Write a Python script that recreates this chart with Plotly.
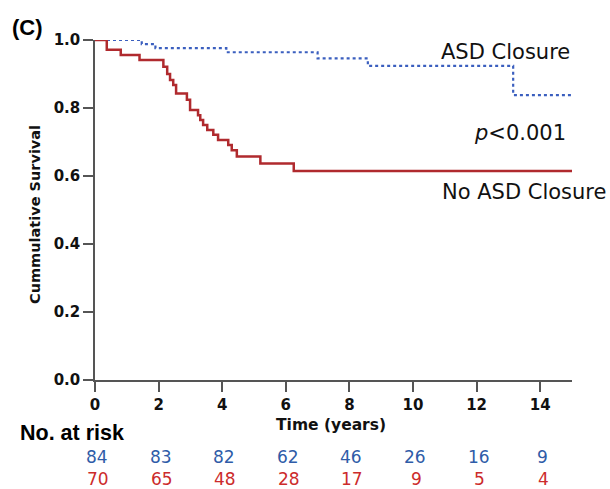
import plotly.graph_objects as go

# Kaplan-Meier step data
asd_time = [0, 1.47, 1.90, 4.13, 7.00, 8.58, 13.15, 15]
asd_surv = [1.0, 0.988, 0.976, 0.964, 0.946, 0.924, 0.838, 0.838]

no_asd_time = [0, 0.37, 0.81, 1.40, 2.15, 2.27, 2.36, 2.46, 2.55, 2.89, 2.99,
               3.24, 3.31, 3.40, 3.53, 3.72, 3.87, 4.19, 4.30, 4.46, 5.20, 6.25, 15]
no_asd_surv = [1.0, 0.971, 0.956, 0.941, 0.921, 0.900, 0.882, 0.868, 0.843, 0.824, 0.794,
               0.779, 0.765, 0.750, 0.735, 0.721, 0.706, 0.691, 0.676, 0.657, 0.637, 0.615, 0.615]

risk_times = [0, 2, 4, 6, 8, 10, 12, 14]
risk_asd = [84, 83, 82, 62, 46, 26, 16, 9]
risk_no_asd = [70, 65, 48, 28, 17, 9, 5, 4]

BLUE_LINE = "#3b5fbf"
RED_LINE = "#b02a2e"
BLUE_TXT = "#2f5ca8"
RED_TXT = "#cc2b2b"
AXIS = "#555555"
FONT = "DejaVu Sans"

fig = go.Figure()
fig.add_trace(go.Scatter(x=asd_time, y=asd_surv, mode="lines", line_shape="hv",
                         line=dict(color=BLUE_LINE, width=2.2, dash="dot"),
                         cliponaxis=False, showlegend=False))
fig.add_trace(go.Scatter(x=no_asd_time, y=no_asd_surv, mode="lines", line_shape="hv",
                         line=dict(color=RED_LINE, width=2.5),
                         cliponaxis=False, showlegend=False))

ann = []
ann.append(dict(text="ASD Closure", x=15, y=0.965, xref="x", yref="y", xanchor="right",
                yanchor="middle", showarrow=False, font=dict(family=FONT, size=21, color="#111")))
ann.append(dict(text="<i>p</i><0.001", x=14.87, y=0.726, xref="x", yref="y", xanchor="right",
                yanchor="middle", showarrow=False, font=dict(family=FONT, size=21, color="#111")))
ann.append(dict(text="No ASD Closure", x=1.0755, y=0.553, xref="paper", yref="paper", xanchor="right",
                yanchor="middle", showarrow=False, font=dict(family=FONT, size=21, color="#111")))
ann.append(dict(text="<b>(C)</b>", x=-0.178, y=1.038, xref="paper", yref="paper", xanchor="left",
                yanchor="middle", showarrow=False, font=dict(family="Liberation Sans", size=22, color="#000")))
ann.append(dict(text="<b>Cummulative Survival</b>", x=-0.126, y=0.488, xref="paper", yref="paper",
                textangle=-90, xanchor="center", yanchor="middle", showarrow=False,
                font=dict(family=FONT, size=14.5, color="#111")))
ann.append(dict(text="<b>Time (years)</b>", x=7.42, y=-0.132, xref="x", yref="paper",
                xanchor="center", yanchor="middle", showarrow=False,
                font=dict(family=FONT, size=15.5, color="#111")))
ann.append(dict(text="<b>No. at risk</b>", x=-0.161, y=-0.156, xref="paper", yref="paper",
                xanchor="left", yanchor="middle", showarrow=False,
                font=dict(family="Liberation Sans", size=21.5, color="#000")))
for t, a, b in zip(risk_times, risk_asd, risk_no_asd):
    ann.append(dict(text=str(a), x=t, y=-0.2265, xref="x", yref="paper", xanchor="center",
                    yanchor="middle", xshift=2, showarrow=False,
                    font=dict(family=FONT, size=17, color=BLUE_TXT)))
    ann.append(dict(text=str(b), x=t, y=-0.292, xref="x", yref="paper", xanchor="center",
                    yanchor="middle", xshift=3, showarrow=False,
                    font=dict(family=FONT, size=17, color=RED_TXT)))

tickfont = dict(family=FONT, size=15, color="#111", weight="bold")

fig.update_layout(
    width=610, height=489,
    margin=dict(l=95, r=38, t=40, b=109),
    paper_bgcolor="white", plot_bgcolor="white",
    annotations=ann,
    xaxis=dict(range=[0, 15], tickvals=risk_times, showline=True, linecolor=AXIS, linewidth=1.5,
               ticks="outside", ticklen=10, tickwidth=1.5, tickcolor=AXIS, showgrid=False,
               zeroline=False, tickfont=tickfont),
    yaxis=dict(range=[0, 1.0], tickvals=[0, 0.2, 0.4, 0.6, 0.8, 1.0], tickformat=".1f",
               showline=True, linecolor=AXIS, linewidth=1.5, ticks="outside", ticklen=10,
               tickwidth=1.5, tickcolor=AXIS, showgrid=False, zeroline=False,
               tickfont=tickfont),
)

# remove the default page margin so the 610x489 figure fills the window exactly
fig.write_html("out.html", config={"displayModeBar": False},
               post_script="document.body.style.margin='0';document.body.style.overflow='hidden';")
